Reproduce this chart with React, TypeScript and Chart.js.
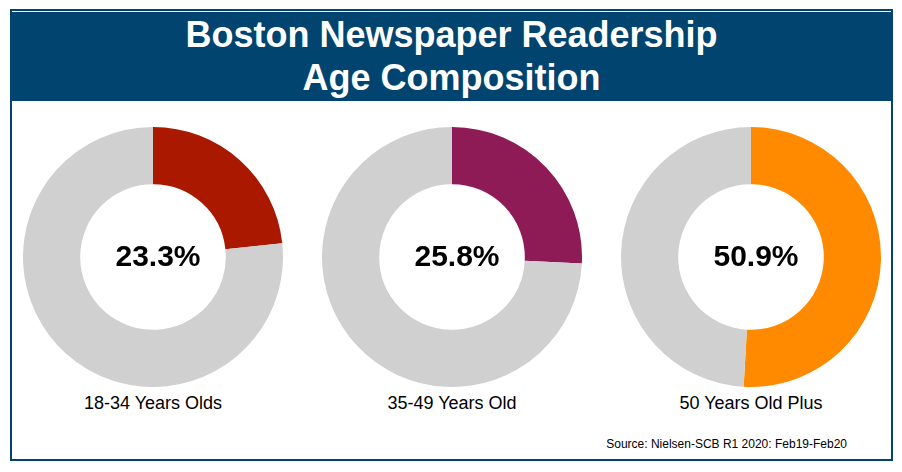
import React, { useEffect, useRef } from "react";
import { Chart, registerables } from "chart.js";

Chart.register(...registerables);

const titleLines = ["Boston Newspaper Readership", "Age Composition"];
const groups = ["18-34 Years Olds", "35-49 Years Old", "50 Years Old Plus"];
const shares = [23.3, 25.8, 50.9];
const shareLabels = ["23.3%", "25.8%", "50.9%"];
const colors = ["#AA1800", "#8E1A56", "#FF8A00"];
const restColor = "#D0D0D0";
const source = "Source: Nielsen-SCB R1 2020: Feb19-Feb20";

const centersX = [153, 452, 751];
const centerY = 257;
const R = 130;
const FONT = '"Liberation Sans", Arial, Helvetica, sans-serif';

function Donut({ value, color, cx }: { value: number; color: string; cx: number }) {
  const ref = useRef<HTMLCanvasElement | null>(null);
  useEffect(() => {
    if (!ref.current) return;
    const chart = new Chart(ref.current, {
      type: "doughnut",
      data: {
        labels: ["share", "rest"],
        datasets: [
          {
            data: [value, +(100 - value).toFixed(1)],
            backgroundColor: [color, restColor],
            borderWidth: 0,
          },
        ],
      },
      options: {
        responsive: false,
        maintainAspectRatio: false,
        animation: false,
        cutout: "56%",
        layout: { padding: 0 },
        plugins: { legend: { display: false }, tooltip: { enabled: false } },
      },
    });
    return () => chart.destroy();
  }, [value, color]);
  return (
    <canvas
      ref={ref}
      width={2 * R}
      height={2 * R}
      style={{ position: "absolute", left: cx - R, top: centerY - R, width: 2 * R, height: 2 * R }}
    />
  );
}

export default function App() {
  return (
    <div style={{ position: "fixed", left: 0, top: 0, width: 902, height: 472, background: "#fff", fontFamily: FONT }}>
      <div
        style={{
          position: "absolute",
          left: 10,
          top: 9,
          width: 883,
          height: 452,
          border: "2px solid #00446F",
          boxSizing: "border-box",
        }}
      />
      <div style={{ position: "absolute", left: 12, top: 12, width: 879, height: 89, background: "#00446F" }} />
      {titleLines.map((t, i) => (
        <div
          key={t}
          style={{
            position: "absolute",
            left: 12,
            width: 879,
            top: 16.5 + i * 43,
            fontSize: 36,
            lineHeight: "36px",
            fontWeight: "bold",
            color: "#fff",
            textAlign: "center",
            whiteSpace: "nowrap",
          }}
        >
          {t}
        </div>
      ))}
      {shares.map((v, i) => (
        <Donut key={i} value={v} color={colors[i]} cx={centersX[i]} />
      ))}
      {shareLabels.map((t, i) => (
        <div
          key={t}
          style={{
            position: "absolute",
            left: centersX[i] - 100 + 5,
            width: 200,
            top: 241,
            fontSize: 30,
            lineHeight: "30px",
            fontWeight: "bold",
            color: "#000",
            textAlign: "center",
          }}
        >
          {t}
        </div>
      ))}
      {groups.map((t, i) => (
        <div
          key={t}
          style={{
            position: "absolute",
            left: centersX[i] - 120,
            width: 240,
            top: 394,
            fontSize: 18,
            lineHeight: "18px",
            color: "#000",
            textAlign: "center",
          }}
        >
          {t}
        </div>
      ))}
      <div
        style={{
          position: "absolute",
          right: 902 - 847,
          top: 438,
          fontSize: 12,
          lineHeight: "12px",
          color: "#000",
          whiteSpace: "nowrap",
        }}
      >
        {source}
      </div>
    </div>
  );
}
